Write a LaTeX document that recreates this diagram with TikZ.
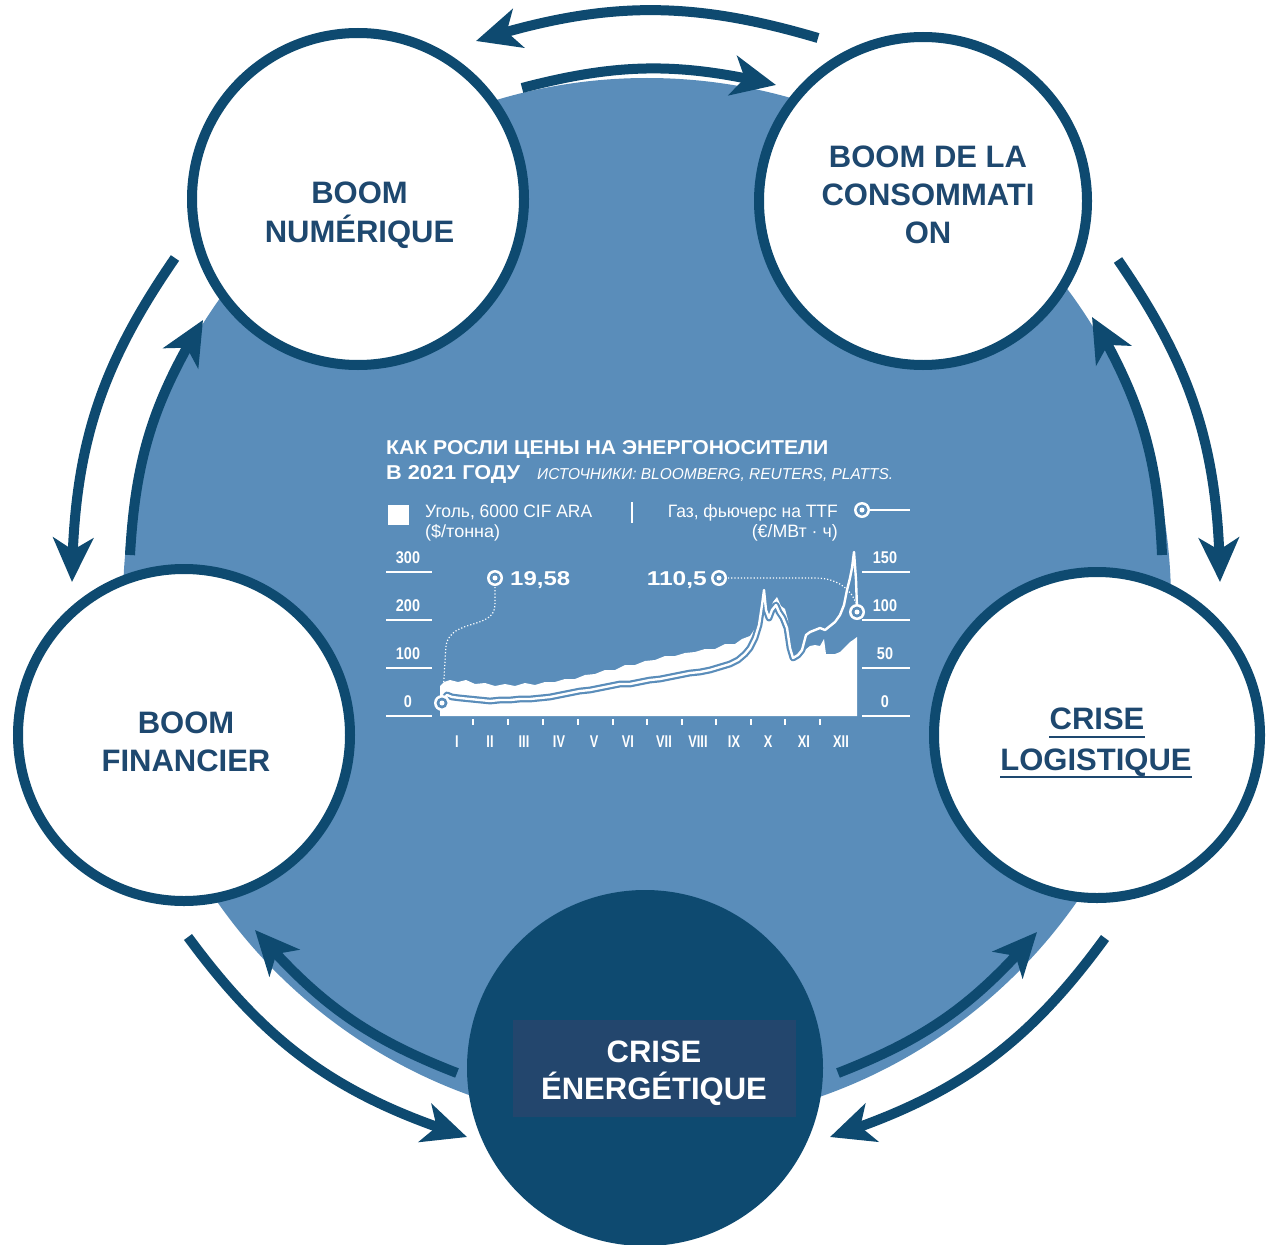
\documentclass[tikz,border=0pt]{standalone}
\usepackage{fontspec}
\setmainfont{Liberation Sans}
\usepackage{graphicx}
\usetikzlibrary{arrows.meta,bending}
\definecolor{dk}{HTML}{0E4A70}
\definecolor{bl}{HTML}{5A8DBA}
\definecolor{txt}{HTML}{1E486F}
\definecolor{boxc}{HTML}{23466D}
\newcommand\fitt[3]{\resizebox{#1pt}{#2pt}{#3}}
\newcommand\chartmark[1]{\fill[white] (#1) circle[radius=8]; \fill[bl] (#1) circle[radius=5.5]; \fill[white] (#1) circle[radius=2.5];}
\begin{document}
\begin{tikzpicture}[x=1pt,y=-1pt,
  ring/.style={circle, draw=dk, line width=10pt, fill=white, inner sep=0pt},
  lbl/.style={anchor=base, inner sep=0pt, text=txt, font=\bfseries\fontsize{31}{31}\selectfont},
  wlbl/.style={lbl, text=white},
  arr/.style={draw=dk, line width=10pt, -{Stealth[length=44pt,width=40pt,inset=12pt]}},
  ch/.style={text=white, inner sep=0pt},
  chw/.style={ch, anchor=base west},
  che/.style={ch, anchor=base east},
  chc/.style={ch, anchor=base},
  axl/.style={draw=white, line width=1.6pt},
  dotl/.style={draw=white, line width=1.2pt, dotted},
  numf/.style={chc, font=\bfseries\fontsize{17}{17}\selectfont}
]
\useasboundingbox (0,0) rectangle (1268,1244);

% big blue disk
\node[circle, fill=bl, minimum size=1048pt, inner sep=0pt] (disk) at (647,602) {};

% ---------- chart ----------
\node[chw] (ct1) at (386,454) {\fitt{442}{14}{\bfseries КАК РОСЛИ ЦЕНЫ НА ЭНЕРГОНОСИТЕЛИ}};
\node[chw] (ct2) at (386,479) {\fitt{134}{14}{\bfseries В 2021 ГОДУ}};
\node[chw] (ct3) at (537,479) {\fitt{356}{11}{\itshape ИСТОЧНИКИ: BLOOMBERG, REUTERS, PLATTS.}};
\fill[white] (388,505) rectangle (409,525);
\node[chw] (lg1) at (425,517) {\fitt{167}{12.5}{Уголь, 6000 CIF ARA}};
\node[chw] (lg2) at (425,537) {\fitt{75}{13}{(\$/тонна)}};
\draw[axl] (632,502) -- (632,523);
\node[che] (lg3) at (838,517) {\fitt{170}{13}{Газ, фьючерс на TTF}};
\node[che] (lg4) at (838,537) {\fitt{86}{13}{(€/МВт · ч)}};
\chartmark{862,510}
\draw[white, line width=2.4pt] (870,510) -- (910,510);

% axes
\foreach \yy/\lv/\rv in {572/300/150, 620/200/100, 668/100/50, 716/0/0}{
  \draw[axl] (386,\yy) -- (432,\yy);
  \draw[axl] (862,\yy) -- (910,\yy);
  \node[numf] at (408,\yy-9) {\scalebox{0.85}[1]{\lv}};
  \node[numf] at (885,\yy-9) {\scalebox{0.85}[1]{\rv}};
}
% coal area
\fill[white] (440,716) -- (440,686) -- (444,682) -- (450,680) -- (458,682) -- (466,680) -- (475,684) -- (485,683) -- (495,686) -- (505,684) -- (515,686) -- (525,683) -- (535,685) -- (545,682) -- (555,682) -- (565,679) -- (575,679) -- (585,675) -- (595,674) -- (605,670) -- (615,670) -- (625,665) -- (635,665) -- (645,661) -- (655,660) -- (665,656) -- (675,656) -- (685,653) -- (695,652) -- (705,649) -- (715,649) -- (725,644) -- (735,644) -- (742,639) -- (750,636) -- (756,627) -- (760,617) -- (763,600) -- (765,588) -- (767,605) -- (770,612) -- (773,602) -- (777,597) -- (781,606) -- (785,609) -- (788,620) -- (791,640) -- (794,656) -- (800,653) -- (805,650) -- (810,646) -- (815,645) -- (820,646) -- (824,639) -- (826,654) -- (835,654) -- (840,652) -- (845,647) -- (850,642) -- (853,640) -- (857,637) -- (857,716) -- cycle;
% gas line
\draw[draw=bl, double=white, double distance=2.4pt, line width=2.2pt, line join=round]
 (443,700) -- (447,695) -- (452,697) -- (460,698) -- (470,699) -- (480,700) -- (490,701) -- (500,700) -- (510,700) -- (520,699) -- (530,699) -- (540,698) -- (550,697) -- (560,695) -- (570,693) -- (580,691) -- (590,690) -- (600,688) -- (610,686) -- (620,684) -- (630,684) -- (640,682) -- (650,680) -- (660,679) -- (670,677) -- (680,675) -- (690,673) -- (700,672) -- (710,670) -- (720,667) -- (730,664) -- (738,660) -- (745,654) -- (750,648) -- (755,638) -- (759,625) -- (762,605) -- (764,590) -- (766,610) -- (769,618) -- (772,610) -- (776,605) -- (779,612) -- (783,618) -- (787,628) -- (790,648) -- (793,658) -- (798,655) -- (802,650) -- (806,635) -- (810,632) -- (815,630) -- (820,628) -- (825,630) -- (830,626) -- (835,622) -- (840,615) -- (844,605) -- (847,590) -- (850,578) -- (852,568) -- (854,552) -- (856,580) -- (857,608);
% x axis
\foreach \xx in {473,508,543,578,613,647,682,716,751,785,820}{\draw[white, line width=1.4pt] (\xx,719) -- (\xx,725);}
\foreach \xx/\mm in {457/I,490/II,524/III,559/IV,594/V,628/VI,664/VII,698/VIII,734/IX,768/X,804/XI,841/XII}{
  \node[numf] at (\xx,747) {\scalebox{0.75}[1]{\mm}};}
% annotations
\draw[dotl] (495,587) -- (495,605) .. controls (494,630) and (452,618) .. (446,645) -- (443,694);
\draw[dotl] (728,578) -- (815,578) .. controls (840,578) and (852,592) .. (856,603);
\chartmark{495,578}
\chartmark{442,703}
\chartmark{719,578}
\chartmark{857,612}
\node[chw] (v1) at (510,585) {\fitt{60}{14}{\bfseries 19,58}};
\node[che] (v2) at (707,585) {\fitt{60}{14}{\bfseries 110,5}};

% ---------- circles ----------
\node[ring, minimum size=332pt] (num) at (358,199) {};
\node[ring, minimum size=328pt] (cons) at (923,201) {};
\node[ring, minimum size=332pt] (fin) at (184,735) {};
\node[ring, minimum size=326pt] (log) at (1097,735) {};
\node[circle, fill=dk, minimum size=356pt, inner sep=0pt] (ener) at (645,1068) {};
\node[fill=boxc, minimum width=283pt, minimum height=97pt, inner sep=0pt] (enerbox) at (654.5,1068.5) {};

% labels
\node[lbl] (n1a) at (359.5,203) {BOOM};
\node[lbl] (n1b) at (359.5,242) {NUMÉRIQUE};
\node[lbl] (n2a) at (928,167) {BOOM DE LA};
\node[lbl] (n2b) at (928,205) {CONSOMMATI};
\node[lbl] (n2c) at (928,243) {ON};
\node[lbl] (n3a) at (186,733) {BOOM};
\node[lbl] (n3b) at (186,771) {FINANCIER};
\node[lbl] (n4a) at (1097,729) {CRISE};
\node[lbl] (n4b) at (1096,770) {LOGISTIQUE};
\draw[txt, line width=2.6pt] ([yshift=-8pt]n4a.base west) -- ([yshift=-8pt]n4a.base east);
\draw[txt, line width=2.6pt] ([yshift=-7pt]n4b.base west) -- ([yshift=-7pt]n4b.base east);
\node[wlbl] (n5a) at (654,1062) {CRISE};
\node[wlbl] (n5b) at (654,1099) {ÉNERGÉTIQUE};

% ---------- arrows ----------
\coordinate (t1) at (818,38);   \coordinate (h1) at (476,41);
\coordinate (t2) at (522,88);   \coordinate (h2) at (776,85);
\coordinate (t3) at (1118,260); \coordinate (h3) at (1220,582);
\coordinate (t4) at (1162,555); \coordinate (h4) at (1092,317);
\coordinate (t5) at (175,258);  \coordinate (h5) at (72,582);
\coordinate (t6) at (130,555);  \coordinate (h6) at (203,320);
\coordinate (t7) at (188,937);  \coordinate (h7) at (467,1137);
\coordinate (t8) at (457,1073); \coordinate (h8) at (255,930);
\coordinate (t9) at (1105,938); \coordinate (h9) at (830,1137);
\coordinate (t10) at (838,1073); \coordinate (h10) at (1037,932);
\draw[arr] (t1) to[bend right=17] (h1);
\draw[arr] (t2) to[bend left=14] (h2);
\draw[arr] (t3) to[bend left=17] (h3);
\draw[arr] (t4) to[bend right=14] (h4);
\draw[arr] (t5) to[bend right=17] (h5);
\draw[arr] (t6) to[bend left=14] (h6);
\draw[arr] (t7) to[bend right=18] (h7);
\draw[arr] (t8) to[bend left=14] (h8);
\draw[arr] (t9) to[bend left=18] (h9);
\draw[arr] (t10) to[bend right=14] (h10);
\end{tikzpicture}
\end{document}
